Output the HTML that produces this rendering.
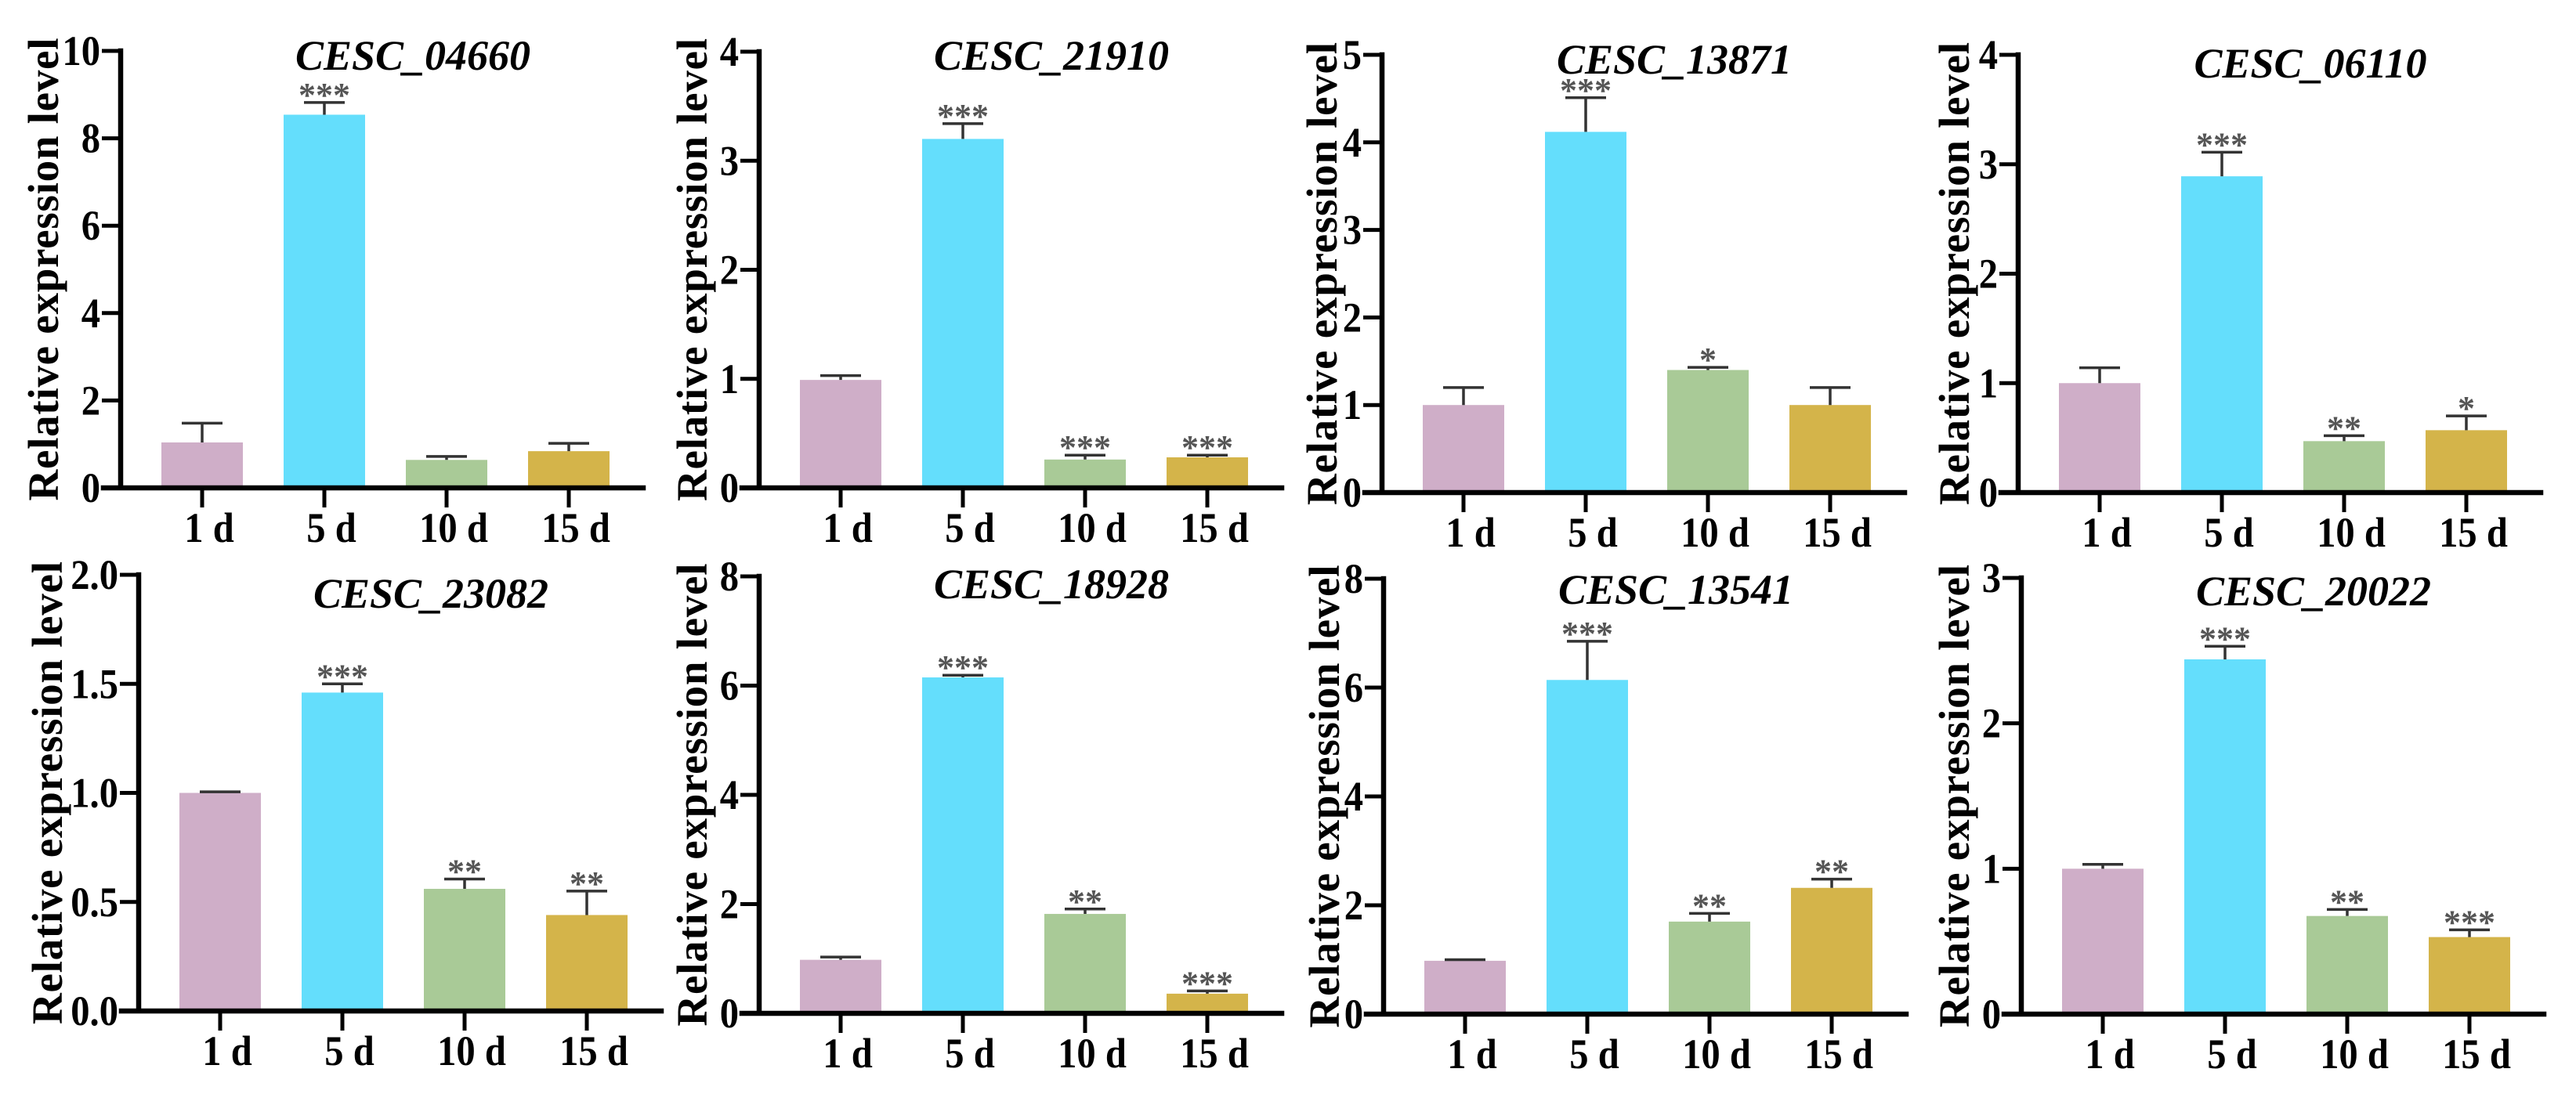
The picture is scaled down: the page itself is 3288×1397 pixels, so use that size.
<!DOCTYPE html>
<html><head><meta charset="utf-8">
<style>
html,body{margin:0;padding:0;background:#fff;}
svg{display:block;}
</style></head>
<body>
<svg id="fig" width="3288" height="1397" viewBox="0 0 3288 1397" xmlns="http://www.w3.org/2000/svg"></svg>
<script>
// ---- data ----
const categories = ["1 d","5 d","10 d","15 d"];
const titles = ["CESC_04660","CESC_21910","CESC_13871","CESC_06110","CESC_23082","CESC_18928","CESC_13541","CESC_20022"];
const yMaxes = [10,4,5,4,2,8,8,3];
const ySteps = [2,1,1,1,0.5,2,2,1];
const yDecimals = [0,0,0,0,1,0,0,0];
const means04660 = [1.04,8.54,0.64,0.84];
const errs04660 = [0.44,0.28,0.08,0.18];
const means21910 = [0.99,3.20,0.26,0.28];
const errs21910 = [0.04,0.14,0.04,0.02];
const means13871 = [1.00,4.12,1.40,1.00];
const errs13871 = [0.20,0.39,0.03,0.20];
const means06110 = [1.00,2.89,0.47,0.57];
const errs06110 = [0.14,0.22,0.05,0.13];
const means23082 = [1.00,1.46,0.56,0.44];
const errs23082 = [0.005,0.04,0.045,0.11];
const means18928 = [0.98,6.15,1.82,0.36];
const errs18928 = [0.05,0.04,0.09,0.05];
const means13541 = [0.98,6.14,1.70,2.32];
const errs13541 = [0.02,0.71,0.15,0.16];
const means20022 = [1.00,2.44,0.675,0.53];
const errs20022 = [0.03,0.09,0.045,0.05];
const stars04660 = ["","***","",""];
const stars21910 = ["","***","***","***"];
const stars13871 = ["","***","*",""];
const stars06110 = ["","***","**","*"];
const stars23082 = ["","***","**","**"];
const stars18928 = ["","***","**","***"];
const stars13541 = ["","***","**","**"];
const stars20022 = ["","***","**","***"];
const allMeans = [means04660,means21910,means13871,means06110,means23082,means18928,means13541,means20022];
const allErrs = [errs04660,errs21910,errs13871,errs06110,errs23082,errs18928,errs13541,errs20022];
const allStars = [stars04660,stars21910,stars13871,stars06110,stars23082,stars18928,stars13541,stars20022];

// ---- layout ----
const axisXs = [154,969,1764,2576,177,969,1766,2580];
const topYs = [65,66,70,70,734,736,739,738];
const zeroYs = [623,623,629,629,1291,1294,1295,1295];
const titleBase = [89,89,94,99,776,764,771,773];
const ylabXs = [55,883,1687,2494,60,883,1690,2494];
const colors = ["#CFAEC8","#64DEFC","#A9CA97","#D4B44A"];

const NS = "http://www.w3.org/2000/svg";
const svg = document.getElementById('fig');
function mk(tag, attrs, parent){
  const e = document.createElementNS(NS, tag);
  for (const k in attrs) e.setAttribute(k, attrs[k]);
  (parent||svg).appendChild(e);
  return e;
}

for (let p = 0; p < 8; p++) {
  const g = mk('g', {});
  
  
  const ax = axisXs[p], top = topYs[p], zero = zeroYs[p];
  const yMax = yMaxes[p];
  const yScale = v => zero - (v / yMax) * (zero - top);
  const xPos = i => ax + 104 + 156 * i;
  const xEnd = xPos(3) + 95;

  const means = allMeans[p], errs = allErrs[p], stars = allStars[p];
  for (let i = 0; i < categories.length; i++) {
    const yt = yScale(means[i]);
    const bar = mk('rect', {x: xPos(i) - 52, y: yt, width: 104, height: zero - yt, fill: colors[i]}, g);
    
    
    const yc = yScale(means[i] + errs[i]);
    const eb = mk('path', {d: `M${xPos(i)},${yt} V${yc} M${xPos(i)-26},${yc} H${xPos(i)+26}`, stroke: '#333', 'stroke-width': 3.5, fill: 'none'}, g);
    
    
    if (stars[i]) {
      const st = mk('text', {x: xPos(i), y: yc + 5, 'text-anchor': 'middle', 'font-family': '"Liberation Serif", serif', 'font-weight': 'bold', 'font-size': 44, fill: '#555'}, g);
      st.textContent = stars[i];
      
      
    }
  }

  const axes = mk('path', {d: `M${ax},${top} V${zero} M${ax-22},${zero} H${xEnd}`, stroke: '#000', 'stroke-width': 6.5, fill: 'none', 'stroke-linecap': 'square'}, g);
  
  

  for (let v = 0; v <= yMax + 1e-9; v += ySteps[p]) {
    const y = yScale(v);
    mk('line', {x1: ax - 24, x2: ax, y1: y, y2: y, stroke: '#000', 'stroke-width': 5}, g);
    const t = mk('text', {x: 0, y: 0, transform: `translate(${ax - 26},${y + 18}) scale(0.9,1)`, 'text-anchor': 'end', 'font-family': '"Liberation Serif", serif', 'font-weight': 'bold', 'font-size': 54, fill: '#000'}, g);
    t.textContent = v.toFixed(yDecimals[p]);
    
    
  }
  for (let i = 0; i < categories.length; i++) {
    mk('line', {x1: xPos(i), x2: xPos(i), y1: zero, y2: zero + 25, stroke: '#000', 'stroke-width': 5}, g);
    const t = mk('text', {x: 0, y: 0, transform: `translate(${xPos(i) + 9},${zero + 69}) scale(0.9,1)`, 'text-anchor': 'middle', 'font-family': '"Liberation Serif", serif', 'font-weight': 'bold', 'font-size': 54, fill: '#000'}, g);
    t.textContent = categories[i];
    
    
  }

  const tt = mk('text', {x: ax + 373, y: titleBase[p], 'text-anchor': 'middle', 'font-family': '"Liberation Serif", serif', 'font-weight': 'bold', 'font-style': 'italic', 'font-size': 54, fill: '#000'}, g);
  tt.textContent = titles[p];
  
  

  const cy = (top + zero) / 2;
  const yl = mk('text', {x: 0, y: 0, transform: `translate(${ylabXs[p] + 19},${cy}) rotate(-90)`, 'text-anchor': 'middle', 'font-family': '"Liberation Serif", serif', 'font-weight': 'bold', 'font-size': 55, fill: '#000', textLength: 591, lengthAdjust: 'spacing'}, g);
  yl.textContent = 'Relative expression level';
  
  
}
</script>
</body></html>
